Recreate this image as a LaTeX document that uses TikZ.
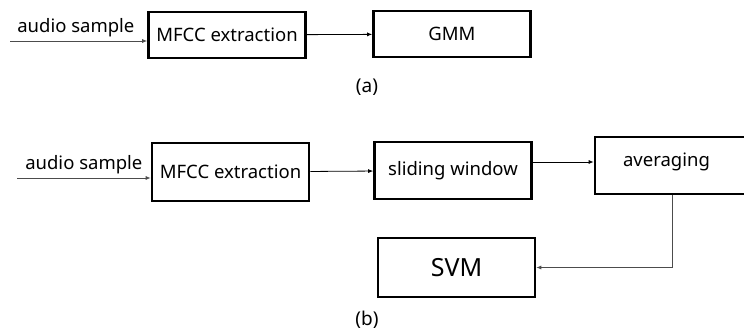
\documentclass[tikz,border=0pt]{standalone}
\usepackage{fontspec}
\setmainfont{Noto Sans}
\usetikzlibrary{arrows.meta,positioning}

\tikzset{
	blk/.style={draw, line width=2.6pt, minimum width=157pt, minimum height=57pt, inner sep=0pt, font=\fontsize{18.5}{20}\selectfont},
	flow/.style={-{Latex[length=5pt,width=4pt]}, line width=0.8pt},
	feed/.style={flow, draw=black!70},
	lbl/.style={font=\fontsize{18.5}{20}\selectfont},
	subcap/.style={font=\fontsize{19}{21}\selectfont, inner sep=1pt},
}

\begin{document}
\begin{tikzpicture}[x=1pt, y=-1pt]
	\useasboundingbox (0,0) rectangle (744,333);
	\clip (0,0) rectangle (744,333);
	% (a)
	\node[blk, minimum height=46pt] (mfccA) at (227,35) {MFCC extraction};
	\node[blk, minimum height=46pt] (gmm) at (452,34) {GMM};
	\coordinate (inA) at (10,41);
	\draw[feed] (inA) -- (inA -| mfccA.west) node[pos=.48, above=0pt, lbl] (audA) {audio sample};
	\draw[flow] (mfccA) -- (gmm);
	\node[subcap] (capA) at (367,87) {(a)};
	% (b)
	\node[blk, minimum height=58pt] (mfccB) at (230.5,172) {MFCC extraction};
	\node[blk] (slide) at (453,170.5) {sliding window};
	\node[blk, minimum width=155pt, text depth=12pt] (avg) at (672.5,165.5) {\hspace*{-12pt}averaging};
	\node[blk, minimum height=59pt, font=\fontsize{25}{28}\selectfont] (svm) at (456.5,267.5) {SVM};
	\coordinate (inB) at (17,178);
	\draw[feed] (inB) -- (inB -| mfccB.west) node[pos=.5, above=0pt, lbl] (audB) {audio sample};
	\draw[flow] (mfccB) -- (slide);
	\draw[flow] ([yshift=8.5pt]slide.east) -- ([yshift=8.5pt]slide.east -| avg.west);
	\draw[feed] (avg.south) |- (svm.east);
	\node[subcap] (capB) at (367,320) {(b)};
\end{tikzpicture}
\end{document}
